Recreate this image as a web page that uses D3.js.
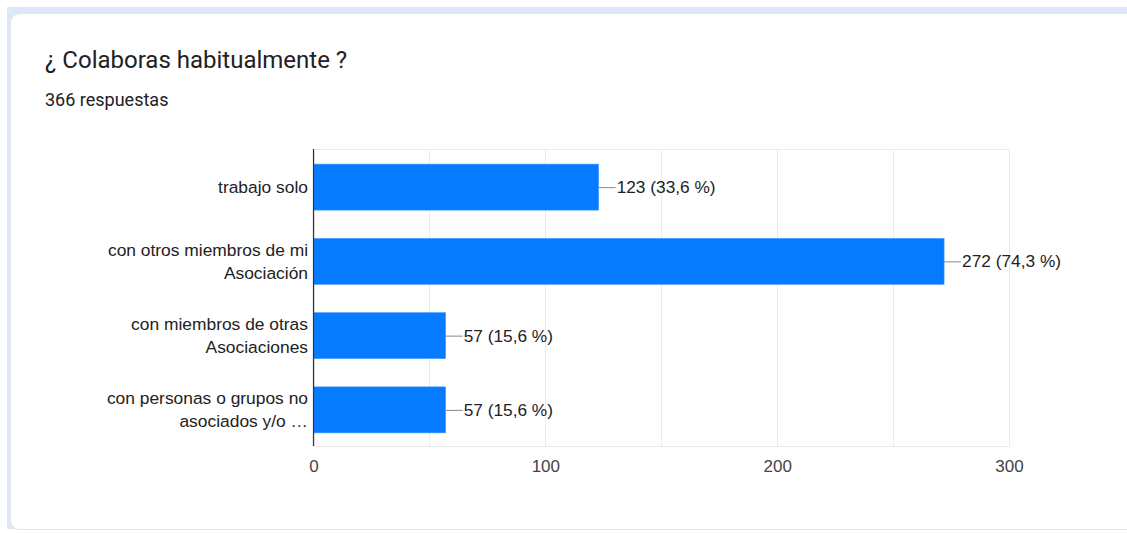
<!DOCTYPE html>
<html>
<head>
<meta charset="utf-8">
<script src="https://cdn.jsdelivr.net/npm/d3@7"></script>
<style>
  html, body { margin: 0; padding: 0; background: #ffffff; }
  svg { display: block; }
</style>
</head>
<body>
<svg id="chart" width="1127" height="533"></svg>
<script>
const title = "¿ Colaboras habitualmente ?";
const subtitle = "366 respuestas";
const categories = [
  ["trabajo solo"],
  ["con otros miembros de mi", "Asociación"],
  ["con miembros de otras", "Asociaciones"],
  ["con personas o grupos no", "asociados y/o …"]
];
const values = [123, 272, 57, 57];
const percents = ["33,6", "74,3", "15,6", "15,6"];
const xTicks = [0, 100, 200, 300];
const gridTicks = [0, 50, 100, 150, 200, 250, 300];

const FONT = "'Liberation Sans', Arial, Helvetica, sans-serif";
const svg = d3.select("#chart");

// page background / card
svg.append("rect").attr("x", 7).attr("y", 7).attr("width", 1140).attr("height", 522).attr("fill", "#dce8f7");
svg.append("rect").attr("x", 10.5).attr("y", 13.5).attr("width", 1140).attr("height", 516)
  .attr("rx", 9).attr("fill", "#ffffff").attr("stroke", "#e3e6ea").attr("stroke-width", 1);

svg.append("text").attr("x", 45).attr("y", 68).text(title)
  .attr("font-family", "Roboto, Arial, sans-serif").attr("font-size", 24).attr("fill", "#202124");
svg.append("text").attr("x", 45).attr("y", 106).text(subtitle)
  .attr("font-family", "Roboto, Arial, sans-serif").attr("font-size", 18).attr("fill", "#202124");

const x = d3.scaleLinear().domain([0, 300]).range([313.5, 1009]);
const y = d3.scaleBand().domain(d3.range(categories.length)).range([149, 446]).paddingInner(0.38).paddingOuter(0.19);

const g = svg.append("g");

// gridlines
g.selectAll("line.grid").data(gridTicks).enter().append("line")
  .attr("x1", d => Math.round(x(d)) + 0.5).attr("x2", d => Math.round(x(d)) + 0.5)
  .attr("y1", 149).attr("y2", 446).attr("stroke", "#ebebeb").attr("stroke-width", 1);
g.append("line").attr("x1", x(0)).attr("x2", x(300)).attr("y1", 149.5).attr("y2", 149.5).attr("stroke", "#ebebeb");
g.append("line").attr("x1", x(0)).attr("x2", x(300) + 1).attr("y1", 446.5).attr("y2", 446.5).attr("stroke", "#ebebeb");

// bars
g.selectAll("rect.bar").data(values).enter().append("rect")
  .attr("x", x(0)).attr("y", (d, i) => y(i) + 1)
  .attr("width", d => x(d) - x(0)).attr("height", y.bandwidth())
  .attr("fill", "#067bff").attr("stroke", "#4a9cff").attr("stroke-width", 0.6);

// baseline axis
g.append("line").attr("x1", 313.5).attr("x2", 313.5).attr("y1", 149).attr("y2", 446)
  .attr("stroke", "#333333").attr("stroke-width", 1.2);

// value labels with leader lines
values.forEach((v, i) => {
  const cy = y(i) + 1 + y.bandwidth() / 2;
  g.append("line").attr("x1", x(v)).attr("x2", x(v) + 17).attr("y1", cy + 0.5).attr("y2", cy + 0.5)
    .attr("stroke", "#888888").attr("stroke-width", 1);
  g.append("text").attr("x", x(v) + 18).attr("y", cy + 6).text(`${v} (${percents[i]} %)`)
    .attr("font-family", FONT).attr("font-size", 17.3).attr("fill", "#222222");
});

// category labels
categories.forEach((lines, i) => {
  const cy = y(i) + 1 + y.bandwidth() / 2;
  const lh = 23;
  const start = cy - (lines.length - 1) * lh / 2 + 6;
  lines.forEach((t, j) => {
    g.append("text").attr("x", 308).attr("y", start + j * lh).attr("text-anchor", "end").text(t)
      .attr("font-family", FONT).attr("font-size", 17.4).attr("fill", "#222222");
  });
});

// x axis tick labels
const xAxis = d3.axisBottom(x).tickValues(xTicks).tickSize(0).tickPadding(0);
const ax = svg.append("g").attr("transform", "translate(0,460)").call(xAxis);
ax.select(".domain").remove();
ax.selectAll("text").attr("font-family", FONT).attr("font-size", 17)
  .attr("fill", "#444444").attr("dy", "0.71em");
</script>
</body>
</html>
